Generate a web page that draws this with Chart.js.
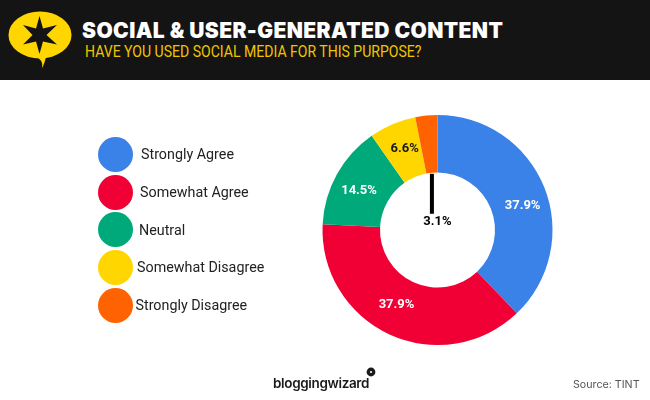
<!DOCTYPE html>
<html><head><meta charset="utf-8">
<script src="https://cdn.jsdelivr.net/npm/chart.js@4"></script>
<style>
html,body{margin:0;padding:0;background:#fff;width:650px;height:400px;overflow:hidden}
#wrap{position:relative;width:650px;height:400px}
#head{position:absolute;left:0;top:0;width:650px;height:80px;background:#141414}
canvas{position:absolute;left:0;top:0}
.t{position:absolute;white-space:nowrap;transform-origin:left center}
#title{left:82px;top:17.5px;font:900 21px/26px Inter,sans-serif;color:#fff;letter-spacing:.4px}
#sub{left:85px;top:41px;font:400 17px/20px Roboto,sans-serif;color:#f2c500;transform:scaleX(.826)}
.dot{position:absolute;width:35px;height:35px;border-radius:50%}
.leg{font:400 14.3px/18px Roboto,sans-serif;color:#222}
#brand{left:273px;top:375px;font:600 13.5px/16px Inter,sans-serif;color:#1a1a1a;letter-spacing:-.35px}
#src{left:573px;top:378px;font:400 10.7px/14px Inter,sans-serif;color:#555}
svg{position:absolute}
</style></head><body>
<div id="wrap">
<div id="head"></div>
<svg style="left:0;top:0" width="80" height="80">
<ellipse cx="40" cy="35" rx="31.5" ry="23.5" fill="#ffd600"/>
<path d="M35 56 L46 57 Q44 65 42 68 Q44 60 35 56Z" fill="#ffd600"/>
<path d="M39.5 16 L43 28.5 L57 25 L46.5 35 L57 44.5 L43 41.5 L39.5 54 L36 41.5 L23 44.5 L32.5 35 L23 25 L36 28.5Z" fill="#141414"/>
</svg>
<div class="t" id="title">SOCIAL &amp; USER-GENERATED CONTENT</div>
<div class="t" id="sub">HAVE YOU USED SOCIAL MEDIA FOR THIS PURPOSE?</div>
<canvas id="c" width="650" height="400"></canvas>
<div id="legend"></div>
<div class="t" id="brand">bloggingwizard</div>
<svg style="left:364px;top:366px" width="14" height="14"><circle cx="7" cy="6" r="4.4" fill="#1a1a1a"/><circle cx="7" cy="6" r="1.1" fill="#fff"/></svg>
<div class="t" id="src">Source: TINT</div>
</div>
<script>
const categories = ["Strongly Agree","Somewhat Agree","Neutral","Somewhat Disagree","Strongly Disagree"];
const values = [37.9,37.9,14.5,6.6,3.1];
const colors = ["#3b82e8","#f00034","#00a97a","#ffd600","#ff6200"];
const labelColors = ["#fff","#fff","#fff","#1a1a1a","#000"];
const legendTextX = [141,140,139,137,135.5];
const legendY = [154,192,229.5,267,305];
const labelNudge = [[5,8],[-5,-4],[-3,3],[1,-2],null];

const legend = document.getElementById('legend');
categories.forEach((name,i)=>{
  const d=document.createElement('div');d.className='dot';
  d.style.cssText=`left:98px;top:${legendY[i]-17.5}px;background:${colors[i]}`;
  legend.appendChild(d);
  const t=document.createElement('div');t.className='t leg';t.textContent=name;
  t.style.left=legendTextX[i]+'px';t.style.top=(legendY[i]-9)+'px';
  legend.appendChild(t);
});

const sliceLabels = {
  id:'sliceLabels',
  afterDatasetsDraw(chart){
    const {ctx}=chart, arcs=chart.getDatasetMeta(0).data;
    ctx.save();
    ctx.font='700 13px Roboto, sans-serif';
    ctx.textAlign='center';ctx.textBaseline='middle';
    arcs.forEach((arc,i)=>{
      const text=values[i].toFixed(1)+'%';
      const p=arc.getProps(['x','y','startAngle','endAngle','innerRadius','outerRadius'],true);
      const mid=(p.startAngle+p.endAngle)/2;
      if(labelNudge[i]){
        const r=(p.innerRadius+p.outerRadius)/2;
        ctx.fillStyle=labelColors[i];
        ctx.fillText(text,p.x+Math.cos(mid)*r+labelNudge[i][0],p.y+Math.sin(mid)*r+labelNudge[i][1]);
      }else{
        const sx=p.x+Math.cos(mid)*p.innerRadius, sy=p.y+Math.sin(mid)*p.innerRadius;
        ctx.fillStyle='#000';
        ctx.fillRect(sx-2,sy+1,4,40);
        ctx.fillStyle=labelColors[i];
        ctx.fillText(text,p.x,sy+49);
      }
    });
    ctx.restore();
  }
};

new Chart(document.getElementById('c'),{
  type:'doughnut',
  data:{labels:categories,datasets:[{data:values,backgroundColor:colors,borderWidth:0}]},
  options:{
    responsive:false,animation:false,devicePixelRatio:1,
    cutout:'50%',
    layout:{padding:{left:322.5,right:97.5,top:115,bottom:55}},
    plugins:{legend:{display:false},tooltip:{enabled:false}}
  },
  plugins:[sliceLabels]
});
</script>
</body></html>
